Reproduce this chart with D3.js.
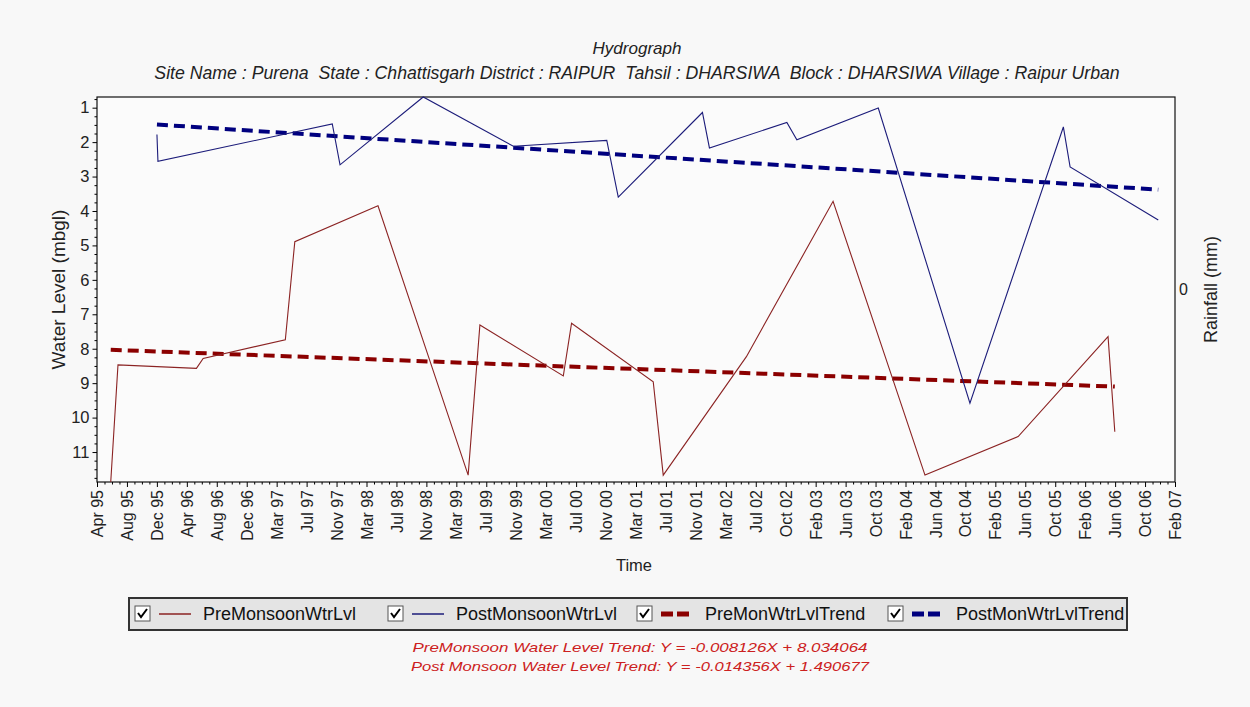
<!DOCTYPE html>
<html>
<head>
<meta charset="utf-8">
<script src="https://cdn.jsdelivr.net/npm/d3@7"></script>
<style>
  body { margin: 0; background: #f8f8f8; }
  svg { display: block; font-family: "Liberation Sans", Arial, sans-serif; }
</style>
</head>
<body>
<div id="chart"></div>
<script>
var preDates = ["1995-06-06", "1995-07-05", "1996-05-14", "1996-06-10", "1997-05-05", "1997-06-12",
  "1998-05-11", "1999-05-07", "1999-06-23", "2000-05-22", "2000-06-24", "2001-05-17", "2001-06-26",
  "2002-05-25", "2003-05-07", "2004-05-09", "2005-05-17", "2006-05-12", "2006-06-08"];
var preValues = [11.87, 8.47, 8.57, 8.28, 7.74, 4.89, 3.85, 11.67, 7.31, 8.79, 7.26, 8.96, 11.67,
  8.23, 3.72, 11.67, 10.55, 7.65, 10.41];

var postDates = ["1995-12-08", "1995-12-12", "1997-11-09", "1997-12-10", "1998-11-08", "1999-11-04",
  "2000-11-12", "2000-12-28", "2001-11-30", "2001-12-28", "2002-11-03", "2002-12-13", "2003-11-04",
  "2004-11-05", "2005-11-14", "2005-12-11", "2006-11-29"];
var postValues = [1.78, 2.56, 1.47, 2.66, 0.69, 2.12, 1.95, 3.60, 1.14, 2.17, 1.43, 1.93, 1.01,
  9.58, 1.56, 2.72, 4.26];

var preTrendDates = ["1995-06-06", "2006-06-08"];
var preTrendValues = [8.03, 9.10];
var postTrendDates = ["1995-12-08", "2006-11-29"];
var postTrendValues = [1.49, 3.38];

var xTickLabels = ["Apr 95", "Aug 95", "Dec 95", "Apr 96", "Aug 96", "Dec 96", "Mar 97", "Jul 97",
  "Nov 97", "Mar 98", "Jul 98", "Nov 98", "Mar 99", "Jul 99", "Nov 99", "Mar 00", "Jul 00", "Nov 00",
  "Mar 01", "Jul 01", "Nov 01", "Mar 02", "Jul 02", "Oct 02", "Feb 03", "Jun 03", "Oct 03", "Feb 04",
  "Jun 04", "Oct 04", "Feb 05", "Jun 05", "Oct 05", "Feb 06", "Jun 06", "Oct 06", "Feb 07"];
var yTickValues = [1, 2, 3, 4, 5, 6, 7, 8, 9, 10, 11];
var rainTickValues = [0];
var timeDomain = ["1995-04-12", "2007-02-04"];

var legendNames = ["PreMonsoonWtrLvl", "PostMonsoonWtrLvl", "PreMonWtrLvlTrend", "PostMonWtrLvlTrend"];
var trendNotes = ["PreMonsoon Water Level Trend: Y = -0.008126X + 8.034064",
  "Post Monsoon Water Level Trend: Y = -0.014356X + 1.490677"];

var width = 1250, height = 707;
var plot = {left: 97, right: 1175, top: 97, bottom: 482};

var preColor = "#8b2323", postColor = "#1c1c7a";
var preTrendColor = "#8b0000", postTrendColor = "#00007f";

var parse = d3.timeParse("%Y-%m-%d");

var svg = d3.select("#chart").append("svg")
  .attr("width", width)
  .attr("height", height);

svg.append("rect").attr("width", width).attr("height", height).attr("fill", "#f8f8f8");

var t0 = parse(timeDomain[0]), t1 = parse(timeDomain[1]);
var x = d3.scaleTime().domain([t0, t1]).range([plot.left, plot.right]);
var allValues = preValues.concat(postValues);
var y = d3.scaleLinear().domain(d3.extent(allValues)).range([plot.top, plot.bottom]);

// evenly spaced date ticks, like the original
var nSteps = xTickLabels.length - 1;
var tickDates = xTickLabels.map(function(l, i) { return new Date(+t0 + i * (t1 - t0) / nSteps); });
var minorDates = [];
for (var i = 0; i < nSteps; i++) {
  for (var k = 1; k < 4; k++) minorDates.push(new Date(+t0 + (i + k / 4) * (t1 - t0) / nSteps));
}

svg.append("rect")
  .attr("x", plot.left).attr("y", plot.top)
  .attr("width", plot.right - plot.left).attr("height", plot.bottom - plot.top)
  .attr("fill", "#fbfbfb").attr("stroke", "#111").attr("stroke-width", 1.2);

// titles
svg.append("text")
  .attr("x", 637).attr("y", 54)
  .attr("text-anchor", "middle")
  .style("font-size", "17px").style("font-style", "italic").attr("fill", "#222")
  .text("Hydrograph");
svg.append("text")
  .attr("x", 637).attr("y", 79)
  .attr("text-anchor", "middle")
  .attr("xml:space", "preserve")
  .style("white-space", "pre")
  .style("font-size", "17.7px").style("font-style", "italic").attr("fill", "#222")
  .text("Site Name : Purena  State : Chhattisgarh District : RAIPUR  Tahsil : DHARSIWA  Block : DHARSIWA Village : Raipur Urban");

// y axis
var yMinor = d3.range(0.75, 11.9, 0.25).filter(function(v) { return v % 1 != 0; });
svg.append("g")
  .attr("transform", "translate(" + plot.left + ",0)")
  .call(d3.axisLeft(y).tickValues(yMinor).tickSize(2.5).tickFormat(""))
  .call(function(g) { g.select(".domain").remove(); });
var yAxis = svg.append("g")
  .attr("transform", "translate(" + plot.left + ",0)")
  .call(d3.axisLeft(y).tickValues(yTickValues).tickSize(4.5).tickPadding(3).tickFormat(d3.format("d")));
yAxis.select(".domain").remove();
yAxis.selectAll("text").style("font-size", "16.5px").attr("fill", "#222");

// x axis
svg.append("g")
  .attr("transform", "translate(0," + plot.bottom + ")")
  .call(d3.axisBottom(x).tickValues(minorDates).tickSize(2.5).tickFormat(""))
  .call(function(g) { g.select(".domain").remove(); });
var xAxis = svg.append("g")
  .attr("transform", "translate(0," + plot.bottom + ")")
  .call(d3.axisBottom(x).tickValues(tickDates).tickSize(5)
    .tickFormat(function(d, i) { return xTickLabels[i]; }));
xAxis.select(".domain").remove();
xAxis.selectAll("text")
  .style("font-size", "16px").attr("fill", "#222")
  .attr("text-anchor", "end")
  .attr("transform", "rotate(-90)")
  .attr("x", -8).attr("y", 0).attr("dy", "0.35em");

// rainfall axis on the right
var rain = d3.scaleLinear().domain([-1, 1]).range([plot.bottom, plot.top]);
var rAxis = svg.append("g")
  .attr("transform", "translate(" + plot.right + ",0)")
  .call(d3.axisRight(rain).tickValues(rainTickValues).tickSize(0).tickPadding(4).tickFormat(d3.format("d")));
rAxis.select(".domain").remove();
rAxis.selectAll("text").style("font-size", "16px").attr("fill", "#222");

// axis titles
svg.append("text")
  .attr("transform", "translate(58," + ((plot.top + plot.bottom) / 2) + ") rotate(-90)")
  .attr("text-anchor", "middle").attr("dy", "0.35em")
  .style("font-size", "19px").attr("fill", "#222")
  .text("Water Level (mbgl)");
svg.append("text")
  .attr("transform", "translate(1211," + ((plot.top + plot.bottom) / 2) + ") rotate(-90)")
  .attr("text-anchor", "middle").attr("dy", "0.35em")
  .style("font-size", "18px").attr("fill", "#222")
  .text("Rainfall (mm)");
svg.append("text")
  .attr("x", 634).attr("y", 571)
  .attr("text-anchor", "middle")
  .style("font-size", "16.5px").attr("fill", "#222")
  .text("Time");

// series
function rows(dates, values) {
  return dates.map(function(d, i) { return {date: parse(d), value: values[i]}; });
}
var line = d3.line()
  .x(function(d) { return x(d.date); })
  .y(function(d) { return y(d.value); });

var plotArea = svg.append("g");
plotArea.append("path").datum(rows(preTrendDates, preTrendValues))
  .attr("d", line).attr("fill", "none")
  .attr("stroke", preTrendColor).attr("stroke-width", 4).attr("stroke-dasharray", "11,6");
plotArea.append("path").datum(rows(postTrendDates, postTrendValues))
  .attr("d", line).attr("fill", "none")
  .attr("stroke", postTrendColor).attr("stroke-width", 4).attr("stroke-dasharray", "11,6");
plotArea.append("path").datum(rows(preDates, preValues))
  .attr("d", line).attr("fill", "none")
  .attr("stroke", preColor).attr("stroke-width", 1.1);
plotArea.append("path").datum(rows(postDates, postValues))
  .attr("d", line).attr("fill", "none")
  .attr("stroke", postColor).attr("stroke-width", 1.1);

// legend
var legend = svg.append("g");
legend.append("rect")
  .attr("x", 129).attr("y", 598).attr("width", 998).attr("height", 32)
  .attr("fill", "#e4e4e4").attr("stroke", "#333").attr("stroke-width", 2);

var legendX = [135, 388, 637, 888];
var legendStyle = [
  {color: preColor, width: 1.5, dash: null},
  {color: postColor, width: 1.5, dash: null},
  {color: preTrendColor, width: 5, dash: "12,4"},
  {color: postTrendColor, width: 5, dash: "12,4"}
];
legendNames.forEach(function(name, i) {
  var g = legend.append("g").attr("transform", "translate(" + legendX[i] + ",606)");
  g.append("rect").attr("x", 0).attr("y", 0).attr("width", 15).attr("height", 15)
    .attr("fill", "#fff").attr("stroke", "#555").attr("stroke-width", 1);
  g.append("path").attr("d", "M3,7 L6,11 L12,3")
    .attr("fill", "none").attr("stroke", "#000").attr("stroke-width", 2);
  g.append("line").attr("x1", 24).attr("x2", 56).attr("y1", 8).attr("y2", 8)
    .attr("stroke", legendStyle[i].color).attr("stroke-width", legendStyle[i].width)
    .attr("stroke-dasharray", legendStyle[i].dash);
  g.append("text").attr("x", 68).attr("y", 8).attr("dy", "0.35em")
    .style("font-size", "18px").attr("fill", "#111")
    .text(name);
});

// trend equations
var noteWidths = [455, 458];
svg.selectAll(".note").data(trendNotes).enter().append("text")
  .attr("class", "note")
  .attr("x", 640).attr("y", function(d, i) { return 652 + i * 19; })
  .attr("text-anchor", "middle")
  .attr("textLength", function(d, i) { return noteWidths[i]; })
  .attr("lengthAdjust", "spacingAndGlyphs")
  .style("font-size", "13.5px").style("font-style", "italic")
  .attr("fill", "#cc2020")
  .text(function(d) { return d; });
</script>
</body>
</html>
